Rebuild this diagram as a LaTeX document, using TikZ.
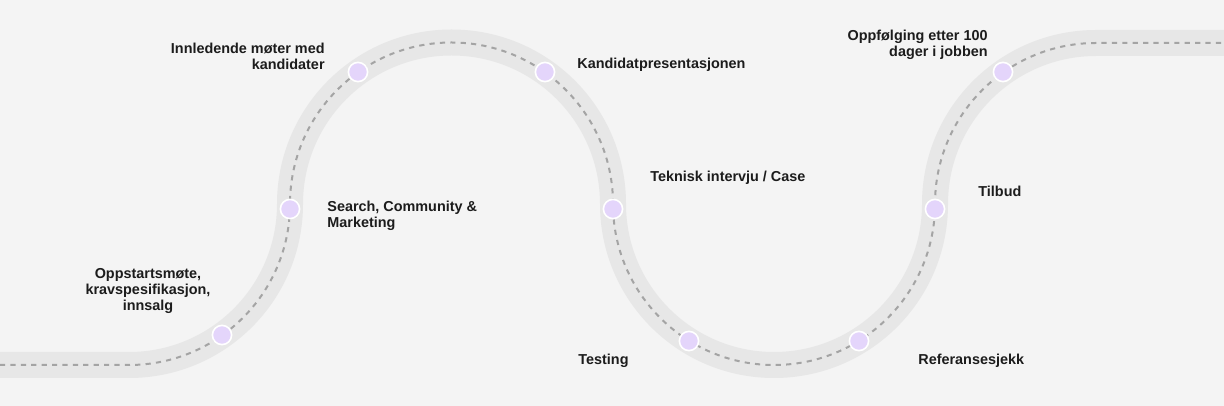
\documentclass[tikz,border=0pt]{standalone}
\usepackage{fontspec}
\setmainfont{Liberation Sans}
\usetikzlibrary{positioning,calc}
\definecolor{cbg}{HTML}{F4F4F4}
\definecolor{croad}{HTML}{E7E7E7}
\definecolor{cdash}{HTML}{A4A4A4}
\definecolor{cdot}{HTML}{E4D5FB}
\definecolor{ctext}{HTML}{1C1C1C}
\tikzset{
  stage/.style={circle, fill=cdot, draw=white, line width=0.8pt, minimum size=9.6pt, inner sep=0pt},
  lbl/.style={inner sep=0pt, text=ctext, font=\fontsize{7.2}{7.9}\selectfont\bfseries}
}
\begin{document}
\begin{tikzpicture}[x=0.5pt, y=0.5pt]
\fill[cbg] (0,0) rectangle (1224,406);
\useasboundingbox (0,0) rectangle (1224,406);
% the road
\draw[croad, line width=13pt] (0,41) -- (129,41) arc[start angle=-90, end angle=0, radius=161]
  arc[start angle=180, end angle=0, radius=161.5] arc[start angle=180, end angle=360, radius=161]
  arc[start angle=180, end angle=90, radius=161] -- (1224,363);
\draw[cdash, line width=1pt, dash pattern=on 2.6pt off 2.6pt] (0,41) -- (129,41) arc[start angle=-90, end angle=0, radius=161]
  arc[start angle=180, end angle=0, radius=161.5] arc[start angle=180, end angle=360, radius=161]
  arc[start angle=180, end angle=90, radius=161] -- (1224,363);
% stages
\node[stage] (d1) at (222,71) {};
\node[stage] (d2) at (290,197) {};
\node[stage] (d3) at (358,334) {};
\node[stage] (d4) at (545,334) {};
\node[stage] (d5) at (613,197) {};
\node[stage] (d6) at (689,65) {};
\node[stage] (d7) at (859,65) {};
\node[stage] (d8) at (935,197) {};
\node[stage] (d9) at (1003,334) {};
% labels
\node[lbl, align=center] (oppstart) at (148,115) {Oppstartsmøte,\\kravspesifikasjon,\\innsalg};
\node[lbl, align=right, anchor=east] (innled) at (325,350) {Innledende møter med\\kandidater};
\node[lbl, align=left, anchor=west] (search) at (327,190) {Search, Community \&\\Marketing};
\node[lbl, anchor=west] (kandpres) at (577,341) {Kandidatpresentasjonen};
\node[lbl, anchor=west] (teknisk) at (650,228) {Teknisk intervju / Case};
\node[lbl, anchor=west] (testing) at (578,45) {Testing};
\node[lbl, anchor=west] (referanse) at (918,45) {Referansesjekk};
\node[lbl, anchor=west] (tilbud) at (978,215) {Tilbud};
\node[lbl, align=right, anchor=east] (oppfolg) at (988,361) {Oppfølging etter 100\\dager i jobben};
\end{tikzpicture}
\end{document}
